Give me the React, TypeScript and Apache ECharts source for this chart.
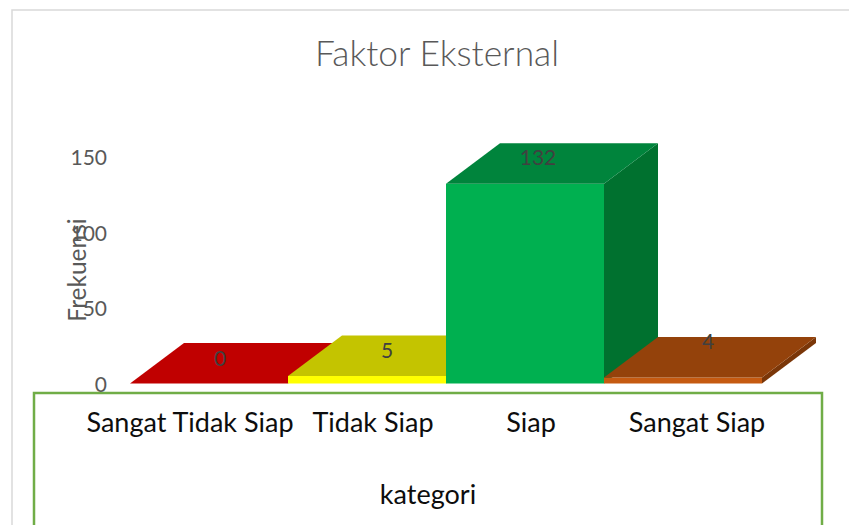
import React, { useEffect, useRef } from "react";
import * as echarts from "echarts";

const titleText = "Faktor Eksternal";
const yAxisName = "Frekuensi";
const xAxisName = "kategori";
const categories = ["Sangat Tidak Siap", "Tidak Siap", "Siap", "Sangat Siap"];
const values = [0, 5, 132, 4];
const yTicks = { min: 0, max: 150, interval: 50 };

const frontColors = ["#C00000", "#FFFF00", "#00B050", "#C55A11"];
const topColors = ["#C00000", "#C4C400", "#00843C", "#94420B"];
const sideColors = ["#8F0000", "#A8A800", "#00712F", "#7A3608"];

// pixel styling of the 3D look
const depthX = 54;
const depthY = 40.5;
const labelOffsets = [[11, -26.5], [20, -26], [13, -27], [25, -36.5]];
const labelPadding = [
  [0, 38, 0, 0],
  [0, 0, 0, 12],
  [0, 0, 0, 12],
  [0, 0, 0, 28],
];

const FONT = "Lato";
const GRAY = "#595959";

export default function App() {
  const ref = useRef<HTMLDivElement>(null);
  useEffect(() => {
    document.body.style.margin = "0";
    const chart = echarts.init(ref.current!, null, { renderer: "svg" });
    const rich: any = {};
    categories.forEach((_, i) => {
      rich["c" + i] = {
        fontFamily: FONT,
        fontSize: 27,
        color: "#0d0d0d",
        padding: labelPadding[i],
      };
    });
    chart.setOption({
      animation: false,
      backgroundColor: "#ffffff",
      title: {
        text: titleText,
        left: 432,
        top: 30,
        textAlign: "center",
        textStyle: { fontFamily: FONT, fontWeight: 300, fontSize: 35.4, color: GRAY },
      },
      grid: { left: 130, width: 632, top: 156.5, height: 227, containLabel: false },
      xAxis: {
        type: "category",
        data: categories,
        z: 5,
        name: xAxisName,
        nameLocation: "middle",
        nameGap: 96,
        nameTextStyle: { fontFamily: FONT, fontSize: 27, color: "#0d0d0d", padding: [0, 36, 0, 0] },
        axisLine: { show: false },
        axisTick: { show: false },
        axisLabel: {
          show: true,
          margin: 24,
          interval: 0,
          hideOverlap: false,
          formatter: (v: string) => `{c${categories.indexOf(v)}|${v}}`,
          rich,
        },
      },
      yAxis: {
        type: "value",
        min: yTicks.min,
        max: yTicks.max,
        interval: yTicks.interval,
        z: 5,
        name: yAxisName,
        nameLocation: "middle",
        nameGap: 41,
        nameRotate: 90,
        nameMoveOverlap: false,
        nameTextStyle: { fontFamily: FONT, fontSize: 24.5, color: GRAY },
        axisLine: { show: false },
        axisTick: { show: false },
        splitLine: { show: false },
        axisLabel: { margin: 23, fontFamily: FONT, fontSize: 21, color: GRAY, padding: [0, 0, 4, 0] },
      },
      graphic: [
        {
          type: "rect",
          z: 0,
          silent: true,
          shape: { x: 12, y: 10, width: 900, height: 600 },
          style: { fill: "#ffffff", stroke: "#D9D9D9", lineWidth: 1.5 },
        },
        {
          type: "rect",
          z: 1,
          silent: true,
          shape: { x: 34, y: 393, width: 788, height: 200 },
          style: { fill: "#ffffff", stroke: "#70AD47", lineWidth: 2.5 },
        },
      ],
      series: [
        {
          type: "custom",
          z: 3,
          clip: false,
          encode: { x: 0, y: 1 },
          data: values.map((v, i) => [i, v]),
          renderItem: (params: any, api: any) => {
            const i = params.dataIndex;
            const top = api.coord([api.value(0), api.value(1)]);
            const base = api.coord([api.value(0), 0]);
            const w = api.size([1, 0])[0];
            const x0 = top[0] - w / 2;
            const x1 = top[0] + w / 2;
            const yT = top[1];
            const yB = base[1];
            const poly = (points: number[][], fill: string) => ({
              type: "polygon",
              shape: { points },
              style: { fill },
            });
            const children: any[] = [];
            if (yB - yT > 0.01) {
              children.push(
                poly([[x0, yT], [x1, yT], [x1, yB], [x0, yB]], frontColors[i]),
                poly(
                  [[x1, yT], [x1 + depthX, yT - depthY], [x1 + depthX, yB - depthY], [x1, yB]],
                  sideColors[i]
                )
              );
            }
            children.push(
              poly(
                [[x0, yT], [x1, yT], [x1 + depthX, yT - depthY], [x0 + depthX, yT - depthY]],
                topColors[i]
              )
            );
            children.push({
              type: "text",
              x: top[0] + labelOffsets[i][0],
              y: yT + labelOffsets[i][1],
              style: {
                text: String(values[i]),
                fill: "#404040",
                font: `21px ${FONT}`,
                align: "center",
                verticalAlign: "middle",
              },
            });
            return { type: "group", children };
          },
        },
      ],
    });
    return () => chart.dispose();
  }, []);
  return (
    <div
      ref={ref}
      style={{ position: "absolute", left: 0, top: 0, width: 849, height: 525, overflow: "hidden" }}
    />
  );
}
